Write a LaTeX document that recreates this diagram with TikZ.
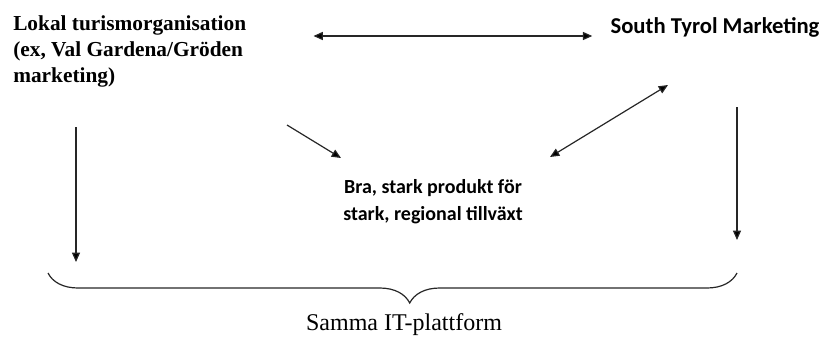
\documentclass[tikz,border=0pt]{standalone}
\usepackage{fontspec}
\setmainfont{Liberation Serif}
\newfontfamily\calibri{Carlito}
\usetikzlibrary{arrows.meta,decorations.pathreplacing,positioning}
\tikzset{>={Triangle[length=7pt,width=6pt]}}
\tikzset{
  serifbox/.style={font=\fontsize{16}{19.5}\selectfont\bfseries,align=left,inner sep=0pt},
  calibox/.style={font=\calibri\fontsize{16}{20.5}\selectfont\bfseries,align=center,inner sep=0pt},
  link/.style={line width=0.9pt,draw=black!85}
}

\begin{document}
\begin{tikzpicture}[x=0.75pt,y=-0.75pt]
    \useasboundingbox (0,0) rectangle (822,336);
    \node[serifbox,anchor=north west] (lokal) at (13,15) {Lokal turismorganisation\\(ex, Val Gardena/Gröden\\marketing)};
    \node[calibox,font=\calibri\fontsize{17}{20}\selectfont\bfseries,anchor=base] (south) at (715,33) {South Tyrol Marketing};
    \node[calibox,font=\calibri\fontsize{15}{20.5}\selectfont\bfseries] (produkt) at (433,202) {Bra, stark produkt för\\stark, regional tillväxt};
    \node[font=\fontsize{18}{20}\selectfont,inner sep=0pt,anchor=base] (samma) at (404,330) {Samma IT-plattform};
    % loose ends of the arrows
    \coordinate (ltop) at (76,127);
    \coordinate (lbot) at (76,262);
    \coordinate (rtop) at (737,107);
    \coordinate (rbot) at (737,240);
    \coordinate (dtop) at (287,125);
    \coordinate (dbot) at (341,158);
    \coordinate (elow) at (550,157);
    \coordinate (ehigh) at (668,85);
    \coordinate (bl) at (48,273);
    \coordinate (br) at (737,273);
    \path[link]
        ([xshift=67pt*0.75]lokal.east |- 0,36) edge[<->] ([xshift=-18pt*0.75]south.west |- 0,36)
        (ltop) edge[->] (lbot)
        (rtop) edge[->] (rbot)
        (dtop) edge[->] (dbot)
        (elow) edge[<->] (ehigh)
    ;
    \draw[link,decorate,decoration={brace,mirror,amplitude=22.5pt,aspect=0.525}] (bl) -- (br);
\end{tikzpicture}
\end{document}
